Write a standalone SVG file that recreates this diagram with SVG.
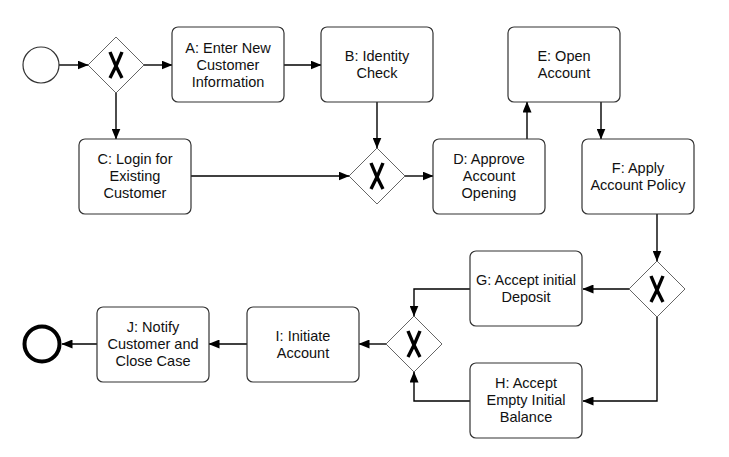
<svg xmlns="http://www.w3.org/2000/svg" width="729" height="457" viewBox="0 0 729 457">
<style>
.task{fill:#fff;stroke:#333;stroke-width:1.2}
.gw{fill:#fff;stroke:#666;stroke-width:1}
.gx{stroke:#000;stroke-width:3.4;stroke-linecap:butt;fill:none}
.t{font-family:"Liberation Sans",Arial,sans-serif;font-size:14.5px;fill:#111;text-anchor:middle}
.c{fill:none;stroke:#000;stroke-width:1.4}
</style>
<defs>
<marker id="ah" markerWidth="11" markerHeight="9" refX="10.5" refY="4.5" orient="auto" markerUnits="userSpaceOnUse">
<path d="M0,0 L11,4.5 L0,9 Z" fill="#000"/>
</marker>
<symbol id="gwx" viewBox="-28 -28 56 56" overflow="visible">
<path class="gw" d="M0,-28 L28,0 L0,28 L-28,0 Z"/>
<path class="gx" d="M-6,-13 Q-1,0 6,13 M6,-13 Q1,0 -6,13"/>
</symbol>
</defs>
<rect width="729" height="457" fill="#fff"/>
<g id="connectors">
<path class="c" marker-end="url(#ah)" d="M59,65 L88,65"/>
<path class="c" marker-end="url(#ah)" d="M144,65 L172,65"/>
<path class="c" marker-end="url(#ah)" d="M116,93 L116,139"/>
<path class="c" marker-end="url(#ah)" d="M284,65 L321,65"/>
<path class="c" marker-end="url(#ah)" d="M377,102 L377,148"/>
<path class="c" marker-end="url(#ah)" d="M191,176 L349,176"/>
<path class="c" marker-end="url(#ah)" d="M405,176 L433,176"/>
<path class="c" marker-end="url(#ah)" d="M527,139 L527,102"/>
<path class="c" marker-end="url(#ah)" d="M601,102 L601,139"/>
<path class="c" marker-end="url(#ah)" d="M657,214 L657,261"/>
<path class="c" marker-end="url(#ah)" d="M629,289 L583,289"/>
<path class="c" marker-end="url(#ah)" d="M657,317 L657,401 L583,401"/>
<path class="c" marker-end="url(#ah)" d="M470,289 L414,289 L414,316"/>
<path class="c" marker-end="url(#ah)" d="M470,401 L414,401 L414,372"/>
<path class="c" marker-end="url(#ah)" d="M386,344 L359,344"/>
<path class="c" marker-end="url(#ah)" d="M247,344 L209,344"/>
<path class="c" marker-end="url(#ah)" d="M97,344 L62,344"/>
</g>
<g id="start"><circle cx="41" cy="65" r="18" fill="#fff" stroke="#333" stroke-width="1.2"/></g>
<g id="gw1"><use href="#gwx" x="88" y="37" width="56" height="56"/></g>
<g id="taskA"><rect class="task" x="172" y="27" width="112" height="75" rx="6"/>
<text class="t" x="228" y="53">A: Enter New</text><text class="t" x="228" y="70">Customer</text><text class="t" x="228" y="87">Information</text></g>
<g id="taskB"><rect class="task" x="321" y="27" width="112" height="75" rx="6"/>
<text class="t" x="377" y="61">B: Identity</text><text class="t" x="377" y="78">Check</text></g>
<g id="taskC"><rect class="task" x="79" y="139" width="112" height="75" rx="6"/>
<text class="t" x="135" y="164">C: Login for</text><text class="t" x="135" y="181">Existing</text><text class="t" x="135" y="198">Customer</text></g>
<g id="gw2"><use href="#gwx" x="349" y="148" width="56" height="56"/></g>
<g id="taskD"><rect class="task" x="433" y="139" width="112" height="75" rx="6"/>
<text class="t" x="489" y="164">D: Approve</text><text class="t" x="489" y="181">Account</text><text class="t" x="489" y="198">Opening</text></g>
<g id="taskE"><rect class="task" x="508" y="27" width="112" height="75" rx="6"/>
<text class="t" x="564" y="61">E: Open</text><text class="t" x="564" y="78">Account</text></g>
<g id="taskF"><rect class="task" x="582" y="139" width="112" height="75" rx="6"/>
<text class="t" x="638" y="173">F: Apply</text><text class="t" x="638" y="190">Account Policy</text></g>
<g id="gw3"><use href="#gwx" x="629" y="261" width="56" height="56"/></g>
<g id="taskG"><rect class="task" x="470" y="251" width="112" height="75" rx="6"/>
<text class="t" x="526" y="285">G: Accept initial</text><text class="t" x="526" y="302">Deposit</text></g>
<g id="taskH"><rect class="task" x="470" y="363" width="112" height="75" rx="6"/>
<text class="t" x="526" y="388">H: Accept</text><text class="t" x="526" y="405">Empty Initial</text><text class="t" x="526" y="422">Balance</text></g>
<g id="gw4"><use href="#gwx" x="386" y="316" width="56" height="56"/></g>
<g id="taskI"><rect class="task" x="247" y="307" width="112" height="75" rx="6"/>
<text class="t" x="303" y="341">I: Initiate</text><text class="t" x="303" y="358">Account</text></g>
<g id="taskJ"><rect class="task" x="97" y="307" width="112" height="75" rx="6"/>
<text class="t" x="153" y="332">J: Notify</text><text class="t" x="153" y="349">Customer and</text><text class="t" x="153" y="366">Close Case</text></g>
<g id="end"><circle cx="42" cy="344" r="17.5" fill="#fff" stroke="#000" stroke-width="4"/></g>
</svg>
